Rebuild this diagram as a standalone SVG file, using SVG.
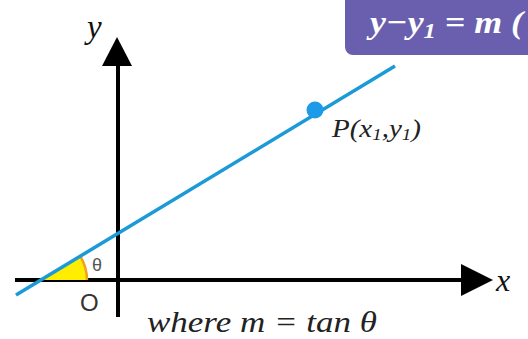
<svg xmlns="http://www.w3.org/2000/svg" width="528" height="339" viewBox="0 0 528 339">
<style>
.ax{stroke:#000;stroke-width:4;fill:none}
.mi{font-family:"Liberation Serif","DejaVu Serif",serif;font-style:italic}
.sn{font-family:"Liberation Sans","DejaVu Sans",sans-serif}
</style>
<rect width="528" height="339" fill="#fff"/>
<g id="formula">
<rect x="345" y="-12" width="200" height="67" rx="8" fill="#6a5fae"/>
<text x="370" y="33" class="mi" font-size="32" font-weight="bold" fill="#fff" textLength="153" lengthAdjust="spacingAndGlyphs">y−y<tspan font-size="22" dy="5">1</tspan><tspan dy="-5"> = m (</tspan></text>
</g>
<g id="axes">
<line class="ax" x1="118" y1="60" x2="118" y2="317"/>
<polygon points="117,37 102,66 132,66" fill="#000"/>
<line class="ax" x1="15" y1="280" x2="465" y2="280"/>
<polygon points="493,280 461,264 461,296" fill="#000"/>
<text x="496" y="291" class="mi" font-size="32" fill="#111">x</text>
<text x="87" y="38" class="mi" font-size="33" fill="#111">y</text>
<text x="80" y="311" class="sn" font-size="24" fill="#333">O</text>
</g>
<g id="angle">
<path d="M41,280 L87,280 A46,46 0 0 0 80.4,256.3 Z" fill="#ffee00" stroke="none"/>
<path d="M87,280 A46,46 0 0 0 80.4,256.3" fill="none" stroke="#f0a020" stroke-width="2.5"/>
<text x="92" y="271" class="sn" font-size="18" fill="#555">θ</text>
</g>
<g id="connectors">
<line x1="16" y1="295" x2="395" y2="66" stroke="#1a9ad6" stroke-width="3.5"/>
</g>
<g id="point">
<circle cx="315" cy="110" r="8.5" fill="#1e9be8"/>
<text x="332" y="137" class="mi" font-size="26" fill="#222" textLength="89" lengthAdjust="spacingAndGlyphs">P(x<tspan font-size="17" dy="3">1</tspan><tspan dy="-3">,y</tspan><tspan font-size="17" dy="3">1</tspan><tspan dy="-3">)</tspan></text>
</g>
<text x="147" y="332" class="mi" font-size="30" fill="#222" textLength="230" lengthAdjust="spacingAndGlyphs">where m = tan θ</text>
</svg>
